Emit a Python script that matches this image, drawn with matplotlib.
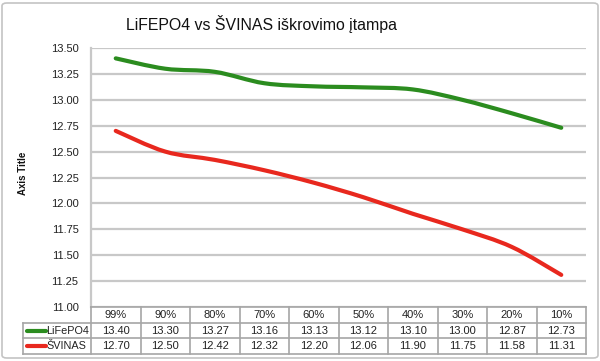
import matplotlib
matplotlib.use("Agg")
import matplotlib.pyplot as plt
import numpy as np
from matplotlib.path import Path
from matplotlib.patches import PathPatch, FancyBboxPatch
from matplotlib.lines import Line2D

plt.rcParams['font.family'] = ['Liberation Sans', 'DejaVu Sans']

categories = ['99%', '90%', '80%', '70%', '60%', '50%', '40%', '30%', '20%', '10%']
lifepo4 = [13.40, 13.30, 13.27, 13.16, 13.13, 13.12, 13.10, 13.00, 12.87, 12.73]
svinas = [12.70, 12.50, 12.42, 12.32, 12.20, 12.06, 11.90, 11.75, 11.58, 11.31]
series_names = ['LiFePO4', 'ŠVINAS']
series_colors = ['#2b8c1f', '#e8281e']
yticks = [11.00, 11.25, 11.50, 11.75, 12.00, 12.25, 12.50, 12.75, 13.00, 13.25, 13.50]

GRID = '#c8c8c8'
TBL = '#a6a6a6'


def smooth_path(xs, ys):
    # Excel-style smoothed line as cubic bezier segments through the points
    pts = np.column_stack([xs, ys]).astype(float)
    n = len(pts)
    verts = [pts[0]]
    codes = [Path.MOVETO]
    for i in range(n - 1):
        p0 = pts[max(i - 1, 0)]
        p1 = pts[i]
        p2 = pts[i + 1]
        p3 = pts[min(i + 2, n - 1)]
        c1 = p1 + (p2 - p0) / 6.0
        c2 = p2 - (p3 - p1) / 6.0
        verts += [c1, c2, p2]
        codes += [Path.CURVE4] * 3
    return Path(verts, codes)


fig = plt.figure(figsize=(6.0, 3.61), dpi=100)
W, H = 600.0, 361.0

# chart frame
fig.patches.append(FancyBboxPatch((2 / W, 3 / H), 596 / W, 355 / H,
                                  boxstyle='round,pad=0,rounding_size=0.008',
                                  transform=fig.transFigure, fill=False,
                                  edgecolor='#c4c4c4', linewidth=1.2))

left, right = 91 / W, 586 / W
top, bottom = 1 - 48 / H, 1 - 307 / H
ax = fig.add_axes([left, bottom, right - left, top - bottom])
x = np.arange(len(categories))

for vals, c in zip([lifepo4, svinas], series_colors):
    ax.add_patch(PathPatch(smooth_path(x, vals), fill=False, edgecolor=c,
                           linewidth=3.0, capstyle='round', zorder=3))

ax.set_xlim(-0.5, len(categories) - 0.5)
ax.set_ylim(11.0, 13.5)
ax.set_yticks(yticks)
ax.set_yticklabels([f'{v:.2f}' for v in yticks], fontsize=8, color='#222222')
ax.set_xticks([])
ax.tick_params(axis='y', length=0, pad=9)
for y in yticks:
    ax.axhline(y, color=GRID, linewidth=1.6, zorder=1)
for s in ['top', 'right', 'bottom']:
    ax.spines[s].set_visible(False)
ax.spines['left'].set_color(GRID)
ax.spines['left'].set_linewidth(1.6)

fig.text(261 / W, 1 - 24 / H, 'LiFEPO4 vs ŠVINAS iškrovimo įtampa',
         ha='center', va='center', fontsize=11.4, color='#111111')
fig.text(23 / W, 1 - 173 / H, 'Axis Title', rotation=90, ha='center',
         va='center', fontsize=7, fontweight='bold', color='#111111')

# data table below the plot
tb_bottom = 1 - 354 / H
tax = fig.add_axes([left, tb_bottom, right - left, bottom - tb_bottom])
tax.set_xlim(-0.5, len(categories) - 0.5)
tax.set_ylim(0, 3)
tax.axis('off')
lbl_left = -0.5 - (91 - 23) / 49.5

rows = [lifepo4, svinas]
for j, name in enumerate(categories):
    tax.text(j, 2.5, name, ha='center', va='center', fontsize=8, color='#222222')
    for r, vals in enumerate(rows):
        tax.text(j, 1.5 - r, f'{vals[j]:.2f}', ha='center', va='center',
                 fontsize=8, color='#222222')

# grid of the table
for xv in np.arange(-0.5, len(categories) + 0.5, 1.0):
    tax.plot([xv, xv], [0, 3], color=TBL, linewidth=1.2, clip_on=False)
tax.plot([-0.5, 9.5], [3, 3], color=TBL, linewidth=1.2, clip_on=False)
for yv in [0, 1, 2]:
    tax.plot([lbl_left, 9.5], [yv, yv], color=TBL, linewidth=1.2, clip_on=False)
tax.plot([lbl_left, lbl_left], [0, 2], color=TBL, linewidth=1.2, clip_on=False)

for r, (name, c) in enumerate(zip(series_names, series_colors)):
    yc = 1.5 - r
    tax.add_line(Line2D([lbl_left + 0.08, lbl_left + 0.46], [yc, yc], color=c,
                        linewidth=3.0, solid_capstyle='round', clip_on=False))
    tax.text(lbl_left + 0.47, yc, name, ha='left', va='center', fontsize=7.8,
             color='#222222', clip_on=False)

fig.savefig('out.png', dpi=100)
